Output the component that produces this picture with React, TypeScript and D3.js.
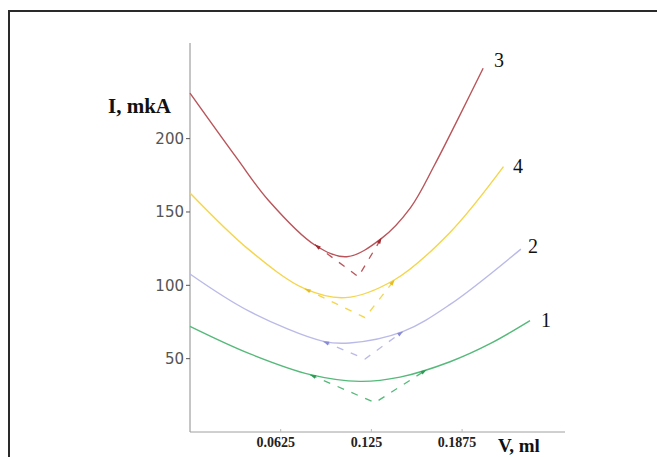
import React, { useEffect, useRef } from "react";
import * as d3 from "d3";

// titration curves, V (ml) vs I (mkA)
const v1 = [0, 0.041, 0.083, 0.117, 0.1447, 0.1792, 0.2068, 0.2343];
const i1 = [72, 53.4, 39.1, 34.5, 37.4, 47.9, 60.2, 75.9];
const v2 = [0, 0.041, 0.092, 0.11, 0.147, 0.179, 0.228];
const i2 = [107.7, 82.2, 61.8, 60.7, 68.6, 86.8, 124.7];
const v3 = [0, 0.032, 0.054, 0.086, 0.108, 0.132, 0.152, 0.1685, 0.1852, 0.202];
const i3 = [231, 187, 158, 127.5, 119.5, 132, 153, 182, 214.5, 248];
const v4 = [0, 0.041, 0.079, 0.107, 0.141, 0.179, 0.216];
const i4 = [163, 124, 97.7, 91.6, 103.8, 135.9, 180.9];

// tangent lines: [left point, crossing point, right point]
const tanV1 = [0.0827, 0.1275, 0.163];
const tanI1 = [39.1, 20, 42.5];
const tanV2 = [0.0917, 0.1206, 0.1468];
const tanI2 = [61.8, 49.8, 68.6];
const tanV3 = [0.086, 0.116, 0.132];
const tanI3 = [127.8, 105.9, 132.4];
const tanV4 = [0.079, 0.1206, 0.141];
const tanI4 = [97.7, 78, 103.8];

const seriesNames = ["1", "2", "3", "4"];
const xTicks = [0.0625, 0.125, 0.1875];
const yTicks = [50, 100, 150, 200];

const colors = ["#55b97a", "#babae8", "#b9555a", "#f5d54a"];
const darkColors = ["#2f9a55", "#8a8ad6", "#9e2d34", "#e6bd1c"];

export default function App() {
  const ref = useRef<SVGSVGElement>(null);

  useEffect(() => {
    const svg = d3.select(ref.current);
    svg.selectAll("*").remove();

    const x = d3.scaleLinear().domain([0, 0.2584]).range([190, 565]);
    const y = d3.scaleLinear().domain([0, 265.2]).range([432, 43]);

    // frame
    svg.append("rect")
      .attr("x", 9).attr("y", 11)
      .attr("width", 700).attr("height", 500)
      .attr("fill", "none")
      .attr("stroke", "#2a2a2a")
      .attr("stroke-width", 2);

    // axes
    svg.append("line")
      .attr("x1", 190).attr("x2", 190).attr("y1", 43).attr("y2", 432)
      .attr("stroke", "#8c8c8c");
    svg.append("line")
      .attr("x1", 190).attr("x2", 565).attr("y1", 432).attr("y2", 432)
      .attr("stroke", "#a0a0a0");

    yTicks.forEach((t) => {
      svg.append("line")
        .attr("x1", 186).attr("x2", 190).attr("y1", y(t)).attr("y2", y(t))
        .attr("stroke", "#555");
      svg.append("text")
        .attr("x", 184).attr("y", y(t) + 5.5)
        .attr("text-anchor", "end")
        .attr("font-family", "DejaVu Sans")
        .attr("font-size", 15)
        .attr("fill", "#555")
        .text(t);
    });

    xTicks.forEach((t) => {
      svg.append("line")
        .attr("x1", x(t)).attr("x2", x(t)).attr("y1", 429).attr("y2", 432)
        .attr("stroke", "#bbb");
      svg.append("text")
        .attr("x", x(t) - 5).attr("y", 447)
        .attr("text-anchor", "middle")
        .attr("font-family", "Liberation Serif")
        .attr("font-weight", "bold")
        .attr("font-size", 14)
        .attr("fill", "#222")
        .text(t);
    });

    svg.append("text")
      .attr("x", 108).attr("y", 113)
      .attr("font-family", "Liberation Serif")
      .attr("font-weight", "bold")
      .attr("font-size", 21)
      .attr("fill", "#111")
      .text("I, mkA");
    svg.append("text")
      .attr("x", 498).attr("y", 452)
      .attr("font-family", "Liberation Serif")
      .attr("font-weight", "bold")
      .attr("font-size", 19)
      .attr("fill", "#111")
      .text("V, ml");

    const curves = [
      { v: v1, i: i1, tv: tanV1, ti: tanI1 },
      { v: v2, i: i2, tv: tanV2, ti: tanI2 },
      { v: v3, i: i3, tv: tanV3, ti: tanI3 },
      { v: v4, i: i4, tv: tanV4, ti: tanI4 },
    ];
    const labelPos = [[541, 327], [528, 253], [494, 67], [513, 173]];

    const line = d3.line<[number, number]>()
      .x((d) => x(d[0]))
      .y((d) => y(d[1]))
      .curve(d3.curveCatmullRom.alpha(0.5));

    curves.forEach((c, k) => {
      const pts = c.v.map((v, j) => [v, c.i[j]] as [number, number]);
      svg.append("path")
        .attr("d", line(pts))
        .attr("fill", "none")
        .attr("stroke", colors[k])
        .attr("stroke-width", 1.4);

      const tp = c.tv.map((v, j) => [v, c.ti[j]] as [number, number]);
      svg.append("path")
        .attr("d", d3.line<[number, number]>().x((d) => x(d[0])).y((d) => y(d[1]))(tp))
        .attr("fill", "none")
        .attr("stroke", colors[k])
        .attr("stroke-width", 1.3)
        .attr("stroke-dasharray", "7,8");

      // small arrow marks at tangent points
      [0, 2].forEach((e) => {
        const px = x(tp[e][0]), py = y(tp[e][1]);
        const vx = x(tp[1][0]), vy = y(tp[1][1]);
        const ang = Math.atan2(py - vy, px - vx);
        const len = 6, w = 2;
        const bx = px - Math.cos(ang) * len, by = py - Math.sin(ang) * len;
        const nx = -Math.sin(ang) * w, ny = Math.cos(ang) * w;
        svg.append("path")
          .attr("d", `M${px},${py}L${bx + nx},${by + ny}L${bx - nx},${by - ny}Z`)
          .attr("fill", darkColors[k]);
      });

      svg.append("text")
        .attr("x", labelPos[k][0]).attr("y", labelPos[k][1])
        .attr("font-family", "Liberation Serif")
        .attr("font-size", 20)
        .attr("fill", "#111")
        .text(seriesNames[k]);
    });
  }, []);

  return (
    <svg
      ref={ref}
      width={657}
      height={457}
      style={{ position: "absolute", left: 0, top: 0, background: "#fff" }}
    />
  );
}
